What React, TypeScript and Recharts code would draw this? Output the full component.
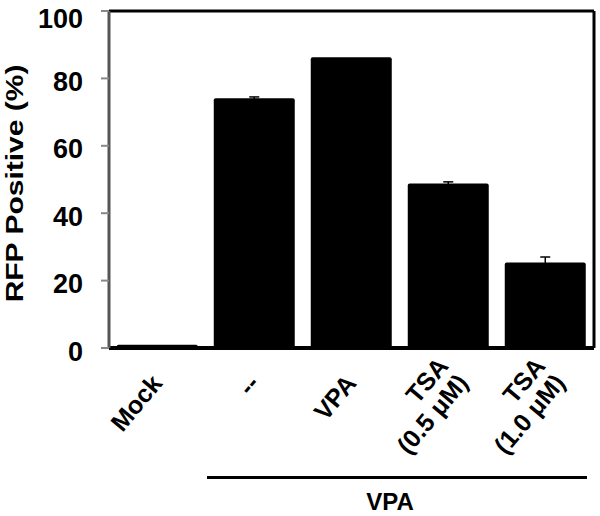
import React from 'react';
import { BarChart, Bar, XAxis, YAxis, ErrorBar, ReferenceLine } from 'recharts';

const categories = ['Mock', '--', 'VPA', 'TSA\n(0.5 μM)', 'TSA\n(1.0 μM)'];
const values = [1.0, 74.1, 86.3, 48.8, 25.4];
const errors = [0, 0.4, 0, 0.5, 1.6];
const yTicks = [0, 20, 40, 60, 80, 100];
const groupLabel = 'VPA';
const yTitle = 'RFP Positive (%)';

const data = categories.map((c, i) => ({ name: c, value: values[i], err: errors[i] }));

const FONT = '"Liberation Sans", Arial, Helvetica, sans-serif';

const XTick = (props: any) => {
  const { x, y, payload } = props;
  const lines = String(payload.value).split('\n');
  const n = lines.length;
  const sx = n > 1 ? 5 : 0;
  const sy = n > 1 ? -9 : 0;
  return (
    <g transform={`translate(${x + 6 + sx},${y + 34 + sy}) rotate(-50)`}>
      <text textAnchor="end" fontSize={25} fontWeight="bold" fill="#000" fontFamily={FONT}>
        {lines.map((l, i) => (
          <tspan key={i} x={0} y={(i - (n - 1) / 2) * 26}>
            {l}
          </tspan>
        ))}
      </text>
    </g>
  );
};

const YLabel = (props: any) => {
  const { viewBox } = props;
  const cx = viewBox.x + 15;
  const cy = viewBox.y + viewBox.height / 2 + 4;
  return (
    <text
      transform={`translate(${cx},${cy}) rotate(-90) scale(1.25,1)`}
      textAnchor="middle"
      dominantBaseline="central"
      fontSize={24}
      fontWeight="bold"
      fill="#000"
      fontFamily={FONT}
    >
      {yTitle}
    </text>
  );
};

export default function App() {
  return (
    <div style={{ position: 'absolute', left: 0, top: 0, width: 600, height: 516, background: '#fff' }}>
      <BarChart
        width={600}
        height={516}
        data={data}
        margin={{ top: 11, right: 0, bottom: 0, left: 0 }}
        barCategoryGap="8%"
      >
        <XAxis
          dataKey="name"
          height={168}
          interval={0}
          tickLine={false}
          tickSize={0}
          tick={<XTick />}
          axisLine={{ stroke: '#000', strokeWidth: 4 }}
        />
        <YAxis
          width={109}
          domain={[0, 100]}
          ticks={yTicks}
          tickSize={8}
          tickMargin={18}
          tickLine={{ stroke: '#888', strokeWidth: 2 }}
          axisLine={{ stroke: '#555', strokeWidth: 3 }}
          tick={{ fontSize: 27, fontWeight: 'bold', fill: '#000', fontFamily: FONT, dy: 3 }}
          label={<YLabel />}
        />
        <YAxis
          yAxisId="right"
          orientation="right"
          width={6}
          domain={[0, 100]}
          tick={false}
          tickLine={false}
          axisLine={{ stroke: '#000', strokeWidth: 3 }}
        />
        <ReferenceLine y={100} stroke="#000" strokeWidth={3} />
        <Bar dataKey="value" fill="#000" radius={[2, 2, 0, 0]} isAnimationActive={false}>
          <ErrorBar dataKey="err" direction="y" width={5} stroke="#000" strokeWidth={1.5} />
        </Bar>
      </BarChart>
      <div
        style={{
          position: 'absolute',
          left: 207,
          top: 476,
          width: 380,
          height: 0,
          borderTop: '3px solid #000',
        }}
      />
      <div
        style={{
          position: 'absolute',
          left: 290,
          width: 200,
          top: 490,
          textAlign: 'center',
          fontFamily: FONT,
          fontWeight: 'bold',
          fontSize: 24,
          lineHeight: '24px',
          color: '#000',
        }}
      >
        {groupLabel}
      </div>
    </div>
  );
}
